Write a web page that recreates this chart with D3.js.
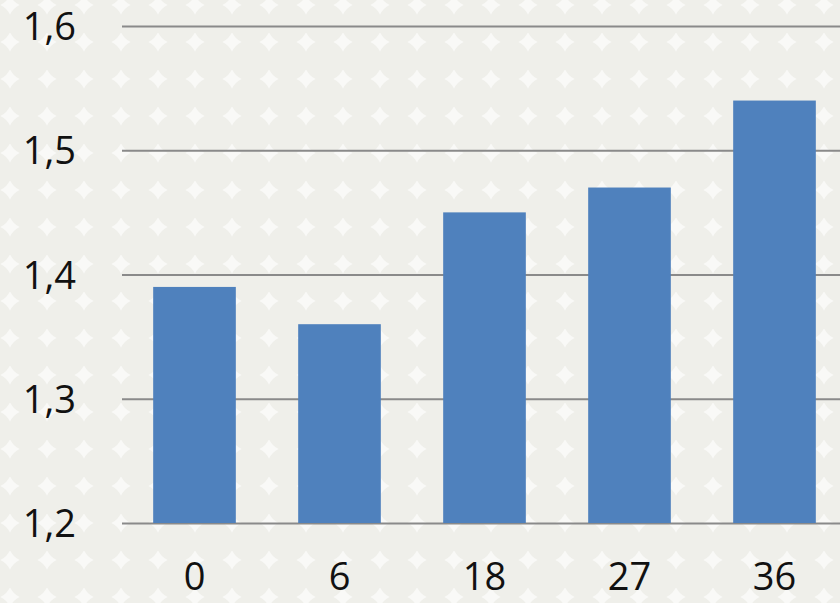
<!DOCTYPE html>
<html>
<head>
<meta charset="utf-8">
<script src="https://cdn.jsdelivr.net/npm/d3@7/dist/d3.min.js"></script>
<style>
  html, body { margin: 0; padding: 0; background: #f4f4f0; }
  svg { display: block; }
  text { font-family: "Open Sans", "Liberation Sans", sans-serif; fill: #111; }
</style>
</head>
<body>
<svg id="chart" width="840" height="603"></svg>
<script>
// Categories and values
const categories = ["0", "6", "18", "27", "36"];
const values = [1.39, 1.36, 1.45, 1.47, 1.54];
const yTicks = [1.2, 1.3, 1.4, 1.5, 1.6];
const yTickLabels = ["1,2", "1,3", "1,4", "1,5", "1,6"];

const W = 840, H = 603;
const margin = { left: 122, right: -7, top: 26, bottom: 80 };

const svg = d3.select("#chart");

// Soft halftone dotted backdrop
const defs = svg.append("defs");
const pat = defs.append("pattern")
  .attr("id", "dots")
  .attr("patternUnits", "userSpaceOnUse")
  .attr("width", 37).attr("height", 37)
  .attr("x", 10).attr("y", 5);
pat.append("rect").attr("width", 37).attr("height", 37).attr("fill", "#f9f9f7");
pat.append("circle").attr("cx", 18.5).attr("cy", 18.5).attr("r", 20.5).attr("fill", "#efefea");

svg.append("rect").attr("width", W).attr("height", H).attr("fill", "url(#dots)");

const x = d3.scaleBand()
  .domain(categories)
  .range([margin.left, W - margin.right])
  .paddingInner(0.43)
  .paddingOuter(0.215);

const y = d3.scaleLinear()
  .domain([1.2, 1.6])
  .range([H - margin.bottom, margin.top]);

// Horizontal gridlines with value labels
const yAxis = d3.axisLeft(y)
  .tickValues(yTicks)
  .tickSize(-(W - margin.left))
  .tickFormat((d, i) => yTickLabels[i]);

const gy = svg.append("g")
  .attr("transform", `translate(${margin.left},0)`)
  .call(yAxis);
gy.select(".domain").remove();
gy.selectAll(".tick line")
  .attr("stroke", "#8a8a8a")
  .attr("stroke-width", 2);
gy.selectAll(".tick text")
  .attr("x", -46)
  .attr("dy", "0.36em")
  .style("font-size", "38px")
  .attr("fill", "#111");

// Bars
svg.append("g")
  .selectAll("rect")
  .data(values)
  .join("rect")
  .attr("x", (d, i) => x(categories[i]))
  .attr("width", x.bandwidth())
  .attr("y", d => y(d))
  .attr("height", d => y(1.2) - y(d))
  .attr("fill", "#4f81bd");

// Category axis
const xAxis = d3.axisBottom(x).tickSize(0).tickPadding(0);
const gx = svg.append("g")
  .attr("transform", `translate(0,${y(1.2)})`)
  .call(xAxis);
gx.select(".domain").remove();
gx.selectAll(".tick text")
  .attr("y", 67)
  .attr("dy", 0)
  .style("font-size", "38px")
  .attr("fill", "#111");
</script>
</body>
</html>
